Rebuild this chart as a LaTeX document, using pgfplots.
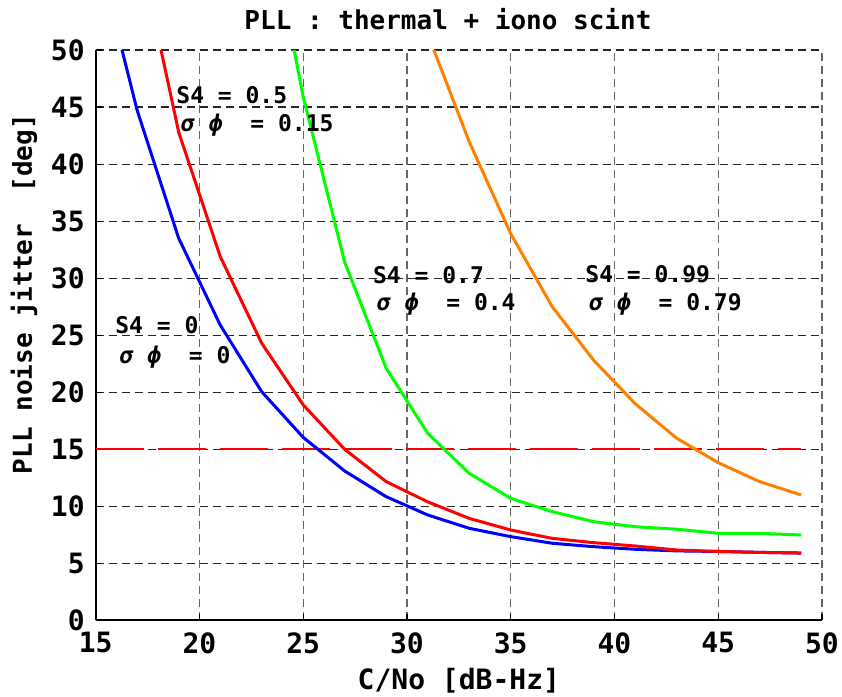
\documentclass[border=0pt]{standalone}
\usepackage{pgfplots}
\pgfplotsset{compat=1.18}
\usepackage{fontspec}
\setmainfont{DejaVu Sans Mono}
\definecolor{cblue}{RGB}{0,0,255}
\definecolor{cred}{RGB}{255,0,0}
\definecolor{cgreen}{RGB}{0,255,0}
\definecolor{corange}{RGB}{255,128,0}
\newcommand{\annot}{\fontsize{11.5}{13}\selectfont\bfseries}
\begin{document}
\begin{tikzpicture}
\begin{axis}[
  scale only axis, width=363.15pt, height=285.25pt,
  xmin=15, xmax=50, ymin=0, ymax=50, enlargelimits=false,
  xtick={15,20,...,50}, ytick={0,5,...,50},
  axis x line*=bottom, axis y line*=left,
  axis line style={-, line width=1pt, black},
  tick align=inside, major tick length=3pt, tick style={black, line width=0.6pt},
  grid=major,
  major x grid style={black!60, line width=0.6pt, dash pattern=on 4pt off 2.5pt},
  major y grid style={black!85, line width=0.6pt, dash pattern=on 4pt off 2.5pt},
  /pgf/number format/assume math mode=true,
  ticklabel style={font=\fontsize{14}{16}\selectfont\bfseries},
  yticklabel style={xshift=-2pt},
  xticklabel style={yshift=-2.5pt},
  xlabel={C/No [dB-Hz]},
  xlabel style={at={(axis description cs:0.5,-0.106)}, anchor=center, inner sep=0pt, font=\fontsize{14}{16}\selectfont\bfseries},
  ylabel={PLL noise jitter~~[deg]},
  ylabel style={at={(axis description cs:-0.0987,0.572)}, anchor=center, inner sep=0pt, font=\fontsize{13}{15}\selectfont\bfseries},
]
\addplot[cred, line width=1pt, dash pattern=on 24pt off 7pt] coordinates {(15,15) (49,15)};
\addplot[cblue, line width=1.5pt] coordinates {
(15,59.2) (17,44.7) (19,33.5) (21,25.9) (23,20.05) (25,16.05) (27,13.1) (29,10.85)
(31,9.25) (33,8.08) (35,7.35) (37,6.77) (39,6.47) (41,6.24) (43,6.1) (45,6.05) (47,5.97) (49,5.91)};
\addplot[cgreen, line width=1.5pt] coordinates {
(23,64.5) (25,45.9) (27,31.4) (29,22.1) (31,16.4) (33,12.9) (35,10.7) (37,9.54)
(39,8.66) (41,8.22) (43,8.0) (45,7.64) (47,7.64) (49,7.49)};
\addplot[corange, line width=1.5pt] coordinates {
(31,51.4) (33,41.96) (35,33.9) (37,27.5) (39,22.8) (41,19.0) (43,15.97) (45,13.83) (47,12.17) (49,11.0)};
\addplot[cred, line width=1.5pt] coordinates {
(17,59.7) (19,42.8) (21,31.9) (23,24.3) (25,18.9) (27,15.0) (29,12.17) (31,10.4)
(33,8.95) (35,7.93) (37,7.2) (39,6.82) (41,6.53) (43,6.18) (45,6.05) (47,5.97) (49,5.91)};
\node[anchor=base west, inner sep=0pt, font=\annot] at (axis cs:18.87,45.27) {S4 = 0.5};
\node[anchor=base west, inner sep=0pt, font=\annot] at (axis cs:19.10,42.84) {{\itshape σ ϕ}~~= 0.15};
\node[anchor=base west, inner sep=0pt, font=\annot] at (axis cs:15.93,25.17) {S4 = 0};
\node[anchor=base west, inner sep=0pt, font=\annot] at (axis cs:16.14,22.54) {{\itshape σ ϕ}~~= 0};
\node[anchor=base west, inner sep=0pt, font=\annot] at (axis cs:28.35,29.55) {S4 = 0.7};
\node[anchor=base west, inner sep=0pt, font=\annot] at (axis cs:28.54,27.15) {{\itshape σ ϕ}~~= 0.4};
\node[anchor=base west, inner sep=0pt, font=\annot] at (axis cs:38.58,29.58) {S4 = 0.99};
\node[anchor=base west, inner sep=0pt, font=\annot] at (axis cs:38.77,27.13) {{\itshape σ ϕ}~~= 0.79};
\end{axis}
\node[anchor=base, inner sep=0pt, font=\fontsize{13}{15}\selectfont\bfseries] at ([shift={(-5.45pt,10.3pt)}]current axis.north) {PLL : thermal + iono scint};
\pgfresetboundingbox
\useasboundingbox ([shift={(-47.85pt,-38.25pt)}]current axis.south west) rectangle ([shift={(10pt,25pt)}]current axis.north east);
\end{tikzpicture}
\end{document}
